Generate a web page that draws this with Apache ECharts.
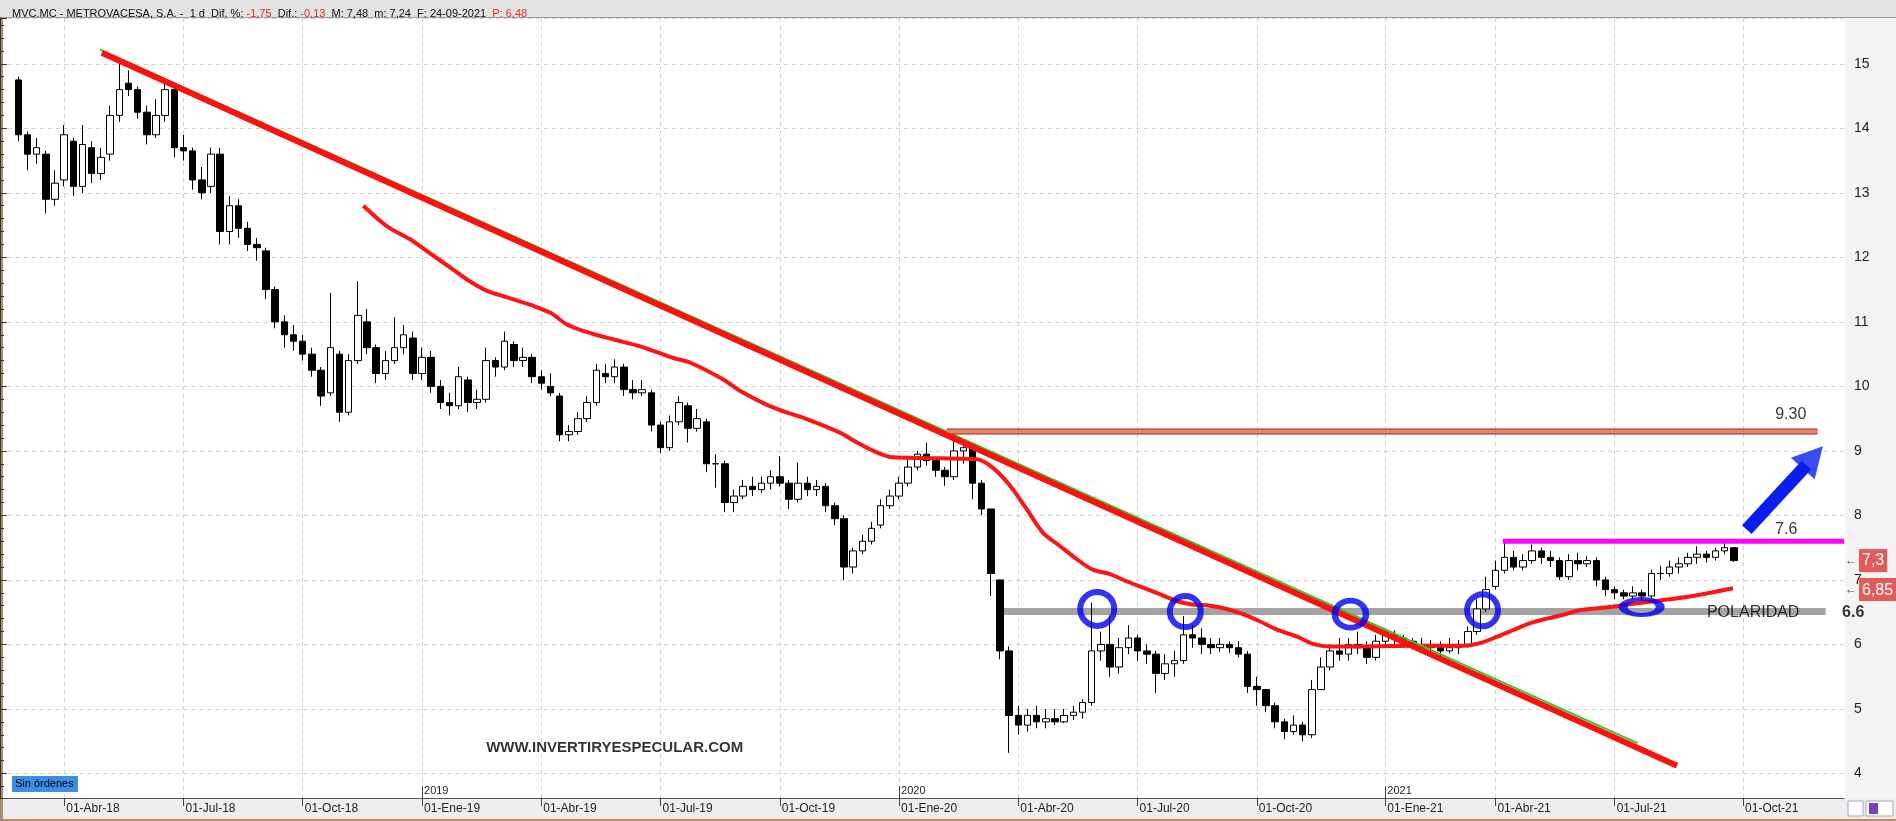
<!DOCTYPE html>
<html>
<head>
<meta charset="utf-8">
<title>MVC.MC - Metrovacesa</title>
<script src="https://cdn.jsdelivr.net/npm/echarts@6/dist/echarts.min.js"></script>
<style>
  html, body { margin: 0; padding: 0; background: #fff; }
  #chart { width: 1896px; height: 821px; }
</style>
</head>
<body>
<div id="chart"></div>
<script>
// eje X: una categoria por semana (lunes)
const firstMonday = '2018-02-12';
const weekCount = 202;

const quarterDates = ['2018-04-01', '2018-07-01', '2018-10-01', '2019-01-01', '2019-04-01', '2019-07-01', '2019-10-01',
  '2020-01-01', '2020-04-01', '2020-07-01', '2020-10-01', '2021-01-01', '2021-04-01', '2021-07-01', '2021-10-01'];
const quarterLabels = ['01-Abr-18', '01-Jul-18', '01-Oct-18', '01-Ene-19', '01-Abr-19', '01-Jul-19', '01-Oct-19',
  '01-Ene-20', '01-Abr-20', '01-Jul-20', '01-Oct-20', '01-Ene-21', '01-Abr-21', '01-Jul-21', '01-Oct-21'];
const yearDates = ['2019-01-01', '2020-01-01', '2021-01-01'];
const yearLabels = ['2019', '2020', '2021'];

// cabecera
const header = { ticker: 'MVC.MC - METROVACESA, S.A. -', period: '1 d', difPct: '-1,75', dif: '-0,13', max: '7,48', min: '7,24', date: '24-09-2021', last: '6,48' };

// velas semanales [apertura, cierre, minimo, maximo]; la primera cae en la semana 2
const ohlcStart = 2;
const weeklyOHLC = [
  [14.75, 13.9, 13.8, 14.8], [13.9, 13.6, 13.35, 13.95], [13.6, 13.7, 13.45, 13.85], [13.6, 12.9, 12.68, 13.65],
  [12.9, 13.15, 12.8, 13.35], [13.2, 13.9, 13.1, 14.05], [13.8, 13.1, 12.95, 13.85], [13.1, 13.75, 13.0, 14.05],
  [13.7, 13.3, 13.15, 13.8], [13.3, 13.55, 13.2, 13.7], [13.6, 14.2, 13.5, 14.35], [14.2, 14.6, 14.1, 15.03],
  [14.7, 14.6, 14.5, 14.9], [14.6, 14.25, 14.15, 14.65], [14.25, 13.9, 13.75, 14.35], [13.9, 14.2, 13.85, 14.45],
  [14.2, 14.6, 14.1, 14.75], [14.6, 13.7, 13.55, 14.65], [13.7, 13.65, 13.5, 13.9], [13.65, 13.2, 13.05, 13.7],
  [13.2, 13.0, 12.9, 13.4], [13.1, 13.6, 13.0, 13.7], [13.6, 12.4, 12.2, 13.7], [12.4, 12.8, 12.2, 12.95],
  [12.8, 12.45, 12.3, 12.9], [12.45, 12.2, 12.1, 12.55], [12.2, 12.15, 11.95, 12.3], [12.1, 11.5, 11.35, 12.15],
  [11.5, 11.0, 10.9, 11.55], [11.0, 10.8, 10.6, 11.1], [10.8, 10.7, 10.55, 10.95], [10.7, 10.5, 10.4, 10.8],
  [10.5, 10.25, 10.15, 10.6], [10.25, 9.85, 9.7, 10.3], [9.9, 10.6, 9.85, 11.45], [10.5, 9.6, 9.45, 10.55],
  [9.6, 10.4, 9.55, 10.5], [10.4, 11.1, 10.35, 11.63], [11.0, 10.6, 10.5, 11.2], [10.6, 10.2, 10.05, 10.65],
  [10.2, 10.4, 10.1, 10.55], [10.4, 10.6, 10.35, 11.07], [10.6, 10.8, 10.5, 10.95], [10.75, 10.2, 10.1, 10.85],
  [10.2, 10.45, 10.1, 10.6], [10.45, 10.0, 9.9, 10.55], [10.0, 9.75, 9.65, 10.1], [9.75, 9.7, 9.55, 9.9],
  [9.7, 10.15, 9.65, 10.3], [10.1, 9.75, 9.6, 10.15], [9.75, 9.8, 9.65, 9.95], [9.8, 10.4, 9.75, 10.6],
  [10.4, 10.3, 10.15, 10.45], [10.3, 10.7, 10.25, 10.85], [10.65, 10.4, 10.3, 10.7], [10.4, 10.45, 10.3, 10.6],
  [10.45, 10.15, 10.05, 10.5], [10.15, 10.05, 9.95, 10.25], [10.0, 9.9, 9.85, 10.2], [9.85, 9.25, 9.15, 9.9],
  [9.25, 9.3, 9.15, 9.4], [9.3, 9.5, 9.25, 9.6], [9.5, 9.75, 9.45, 9.85], [9.75, 10.25, 9.7, 10.35],
  [10.2, 10.15, 10.05, 10.35], [10.15, 10.3, 10.05, 10.42], [10.3, 9.95, 9.85, 10.35], [9.95, 9.9, 9.8, 10.1],
  [9.9, 9.95, 9.85, 10.1], [9.9, 9.4, 9.3, 9.95], [9.4, 9.05, 8.97, 9.45], [9.05, 9.45, 9.0, 9.55],
  [9.45, 9.75, 9.4, 9.85], [9.7, 9.35, 9.13, 9.75], [9.35, 9.5, 9.3, 9.65], [9.45, 8.8, 8.67, 9.5],
  [8.8, 8.8, 8.43, 8.95], [8.8, 8.2, 8.05, 8.85], [8.2, 8.3, 8.05, 8.4], [8.3, 8.45, 8.25, 8.55],
  [8.45, 8.4, 8.3, 8.6], [8.4, 8.5, 8.35, 8.6], [8.5, 8.6, 8.4, 8.7], [8.6, 8.5, 8.45, 8.92],
  [8.5, 8.25, 8.1, 8.55], [8.25, 8.5, 8.2, 8.82], [8.5, 8.4, 8.3, 8.6], [8.4, 8.45, 8.3, 8.55],
  [8.45, 8.15, 8.05, 8.5], [8.15, 7.95, 7.85, 8.2], [7.95, 7.2, 7.0, 8.0], [7.2, 7.45, 7.1, 7.5],
  [7.45, 7.6, 7.4, 7.7], [7.6, 7.8, 7.55, 7.9], [7.85, 8.15, 7.8, 8.25], [8.15, 8.3, 8.1, 8.4],
  [8.3, 8.5, 8.25, 8.6], [8.5, 8.75, 8.45, 8.9], [8.75, 8.95, 8.7, 9.0], [8.95, 8.85, 8.77, 9.13],
  [8.85, 8.7, 8.6, 8.85], [8.7, 8.6, 8.46, 8.75], [8.6, 9.0, 8.55, 9.28], [9.0, 9.05, 8.8, 9.15],
  [9.05, 8.5, 8.25, 9.1], [8.5, 8.1, 8.0, 8.55], [8.1, 7.1, 6.75, 8.1], [7.0, 5.9, 5.77, 7.0],
  [5.9, 4.9, 4.32, 5.97], [4.9, 4.75, 4.6, 5.05], [4.75, 4.9, 4.65, 5.0], [4.9, 4.8, 4.7, 5.05],
  [4.8, 4.85, 4.7, 5.0], [4.85, 4.8, 4.75, 5.0], [4.8, 4.9, 4.78, 5.0], [4.9, 4.95, 4.83, 5.05],
  [4.95, 5.1, 4.85, 5.15], [5.1, 5.9, 5.05, 6.65], [5.9, 6.0, 5.75, 6.2], [6.0, 5.65, 5.5, 6.45],
  [5.65, 5.95, 5.55, 6.1], [5.95, 6.1, 5.85, 6.3], [6.1, 5.9, 5.75, 6.15], [5.9, 5.85, 5.7, 6.0],
  [5.85, 5.55, 5.25, 5.9], [5.55, 5.7, 5.45, 5.85], [5.7, 5.75, 5.5, 5.9], [5.75, 6.15, 5.7, 6.44],
  [6.15, 6.1, 5.95, 6.3], [6.1, 6.0, 5.85, 6.25], [6.0, 5.95, 5.85, 6.1], [5.95, 6.0, 5.88, 6.1],
  [6.0, 5.95, 5.87, 6.05], [5.95, 5.85, 5.8, 6.05], [5.85, 5.35, 5.25, 5.9], [5.35, 5.3, 5.05, 5.5],
  [5.3, 5.05, 4.95, 5.3], [5.05, 4.8, 4.7, 5.1], [4.8, 4.65, 4.53, 4.85], [4.65, 4.75, 4.6, 4.9],
  [4.75, 4.6, 4.5, 4.8], [4.6, 5.3, 4.55, 5.45], [5.3, 5.65, 5.3, 5.8], [5.65, 5.9, 5.6, 6.0],
  [5.9, 5.85, 5.75, 6.1], [5.85, 6.0, 5.75, 6.1], [6.0, 5.95, 5.85, 6.2], [5.95, 5.8, 5.7, 6.05],
  [5.8, 6.05, 5.75, 6.15], [6.05, 6.15, 6.0, 6.2], [6.15, 6.1, 6.0, 6.22], [6.1, 6.05, 5.95, 6.15],
  [6.05, 6.0, 5.92, 6.1], [6.0, 5.95, 5.9, 6.1], [5.95, 6.0, 5.86, 6.07], [6.0, 5.9, 5.75, 6.05],
  [5.9, 5.95, 5.86, 6.1], [5.95, 6.0, 5.85, 6.07], [6.0, 6.2, 5.95, 6.28], [6.2, 6.55, 6.15, 6.7],
  [6.55, 6.85, 6.5, 7.05], [6.9, 7.15, 6.85, 7.3], [7.15, 7.35, 7.1, 7.6], [7.35, 7.2, 7.15, 7.45],
  [7.2, 7.3, 7.15, 7.4], [7.3, 7.45, 7.25, 7.55], [7.45, 7.35, 7.25, 7.5], [7.35, 7.3, 7.2, 7.45],
  [7.3, 7.05, 7.0, 7.35], [7.05, 7.3, 7.0, 7.4], [7.3, 7.25, 7.15, 7.42], [7.25, 7.3, 7.2, 7.37],
  [7.3, 7.0, 6.9, 7.35], [7.0, 6.85, 6.75, 7.05], [6.85, 6.8, 6.7, 6.9], [6.8, 6.75, 6.7, 6.85],
  [6.75, 6.8, 6.7, 6.9], [6.8, 6.75, 6.68, 6.85], [6.75, 7.1, 6.7, 7.16], [7.1, 7.1, 7.0, 7.22],
  [7.1, 7.2, 7.05, 7.3], [7.2, 7.25, 7.1, 7.35], [7.25, 7.35, 7.2, 7.42], [7.35, 7.4, 7.25, 7.52],
  [7.4, 7.35, 7.27, 7.45], [7.35, 7.45, 7.3, 7.5], [7.45, 7.5, 7.4, 7.57], [7.5, 7.3, 7.28, 7.5]
];

// media movil (linea roja): posicion en semanas y valor
const maWeek = [39.6, 42.2, 44.7, 46.5, 49.4, 51.2, 53.1, 55.3, 58.1, 60.0, 61.8, 64.0, 66.8, 69.8, 73.4, 75.2,
  78.8, 80.7, 84.3, 88.0, 91.6, 93.4, 95.2, 97.3, 100.6, 104.6, 106.5, 108.2, 110.1, 111.9, 113.7, 115.5,
  117.4, 119.1, 121.0, 122.8, 124.6, 126.4, 128.3, 130.0, 131.9, 133.7, 135.5, 137.3, 139.2, 141.4, 143.1,
  145.0, 148.6, 154.0, 159.5, 161.3, 163.2, 164.9, 166.8, 168.6, 170.4, 172.2, 175.5, 177.4, 180.9, 184.5, 188.9];
const maValue = [12.8, 12.48, 12.28, 12.1, 11.81, 11.63, 11.48, 11.38, 11.25, 11.14, 10.96, 10.84, 10.73, 10.62, 10.44, 10.37,
  10.11, 9.93, 9.67, 9.49, 9.28, 9.13, 9.0, 8.9, 8.89, 8.88, 8.87, 8.74, 8.46, 8.1, 7.73, 7.53,
  7.32, 7.16, 7.09, 6.98, 6.88, 6.78, 6.67, 6.62, 6.6, 6.55, 6.47, 6.36, 6.23, 6.12, 6.01,
  5.97, 5.97, 5.98, 5.98, 6.02, 6.12, 6.22, 6.33, 6.4, 6.46, 6.53, 6.58, 6.62, 6.68, 6.75, 6.87];

// dibujos sobre el grafico: [semana, precio]
const trendRed = [[11.1, 15.17], [182.8, 4.12]];
const trendGreen = [[10.9, 15.22], [178.5, 4.47]];
const level930 = [[103.2, 9.30], [198.1, 9.30]];
const level76 = [[163.8, 7.6], [201, 7.6]];
const levelPolaridad = [[108.7, 6.51], [199.0, 6.51]];
const touches = [[119.6, 6.55], [129.2, 6.51], [147.2, 6.47], [161.6, 6.53], [178.95, 6.58]];
const arrowShaft = [[190.4, 7.78], [196.9, 8.78]];
const arrowHead = [197.6, 8.9];
const notes = [
  { text: '9.30', at: [195.2, 9.57] },
  { text: '7.6', at: [194.7, 7.78] },
  { text: 'POLARIDAD', at: [191.1, 6.5] },
  { text: '6.6', at: [202.0, 6.5], bold: true },
  { text: 'WWW.INVERTIRYESPECULAR.COM', at: [67.0, 4.4], bold: true }
];
const lastPrice = 7.3;
const lastMA = 6.85;

// ---------------------------------------------------------------
const FONT = '"Liberation Sans", Arial, sans-serif';
const WEEK = 7 * 864e5;
const touchSizes = [[34, 34], [31, 31], [31, 27], [31, 32], [37, 16]];

const t0 = Date.parse(firstMonday);
const weekDates = [];
for (let i = 0; i < weekCount; i++) weekDates.push(new Date(t0 + i * WEEK).toISOString().slice(0, 10));
const weekOf = d => Math.round((Date.parse(d) - t0) / WEEK);

const quarterAt = {};
quarterDates.forEach((d, i) => { quarterAt[weekOf(d)] = quarterLabels[i]; });
const yearAt = {};
yearDates.forEach((d, i) => { yearAt[weekOf(d)] = yearLabels[i]; });
const isQuarter = i => quarterAt[i] !== undefined;
const isYear = i => yearAt[i] !== undefined;

const candleData = weekDates.map((_, i) => {
  const j = i - ohlcStart;
  return (j >= 0 && j < weeklyOHLC.length) ? weeklyOHLC[j] : '-';
});
const maData = maWeek.map((w, i) => [w, maValue[i]]);
const comma = v => String(v).replace('.', ',');

const segment = (data, color, width, z) => ({
  type: 'line', xAxisIndex: 2, yAxisIndex: 0, data, symbol: 'none', silent: true, z,
  lineStyle: { color, width, cap: 'butt' }
});

const chart = echarts.init(document.getElementById('chart'));

chart.setOption({
  animation: false,
  backgroundColor: '#ffffff',
  textStyle: { fontFamily: FONT },
  title: {
    left: 7, top: 3,
    text: `{k|${header.ticker}  ${header.period}  Dif. %: }{r|${header.difPct}}{k|  Dif.: }{r|${header.dif}}` +
      `{k|  M: ${header.max}  m: ${header.min}  F: ${header.date}  }{r|P: ${header.last}}`,
    textStyle: {
      rich: {
        k: { fontSize: 11, color: '#111', fontFamily: FONT, fontWeight: 'normal' },
        r: { fontSize: 11, color: '#e0302a', fontFamily: FONT, fontWeight: 'normal' }
      }
    }
  },
  graphic: [
    { type: 'rect', z: -5, shape: { x: 0, y: 0, width: 1896, height: 17 }, style: { fill: '#e2e2e2' } },
    { type: 'rect', z: -5, shape: { x: 0, y: 17, width: 1896, height: 1 }, style: { fill: '#9c9c9c' } },
    { type: 'rect', z: -5, shape: { x: 1845, y: 18, width: 51, height: 780 }, style: { fill: '#f3f3f3' } },
    { type: 'rect', z: -5, shape: { x: 0, y: 798, width: 1896, height: 21 }, style: { fill: '#eeeeee' } },
    { type: 'rect', z: -5, shape: { x: 0, y: 819, width: 1896, height: 2 }, style: { fill: '#c8895a' } },
    { type: 'rect', z: -5, shape: { x: 0, y: 17, width: 3, height: 804 }, style: { fill: '#a58d76' } },
    { type: 'rect', z: 20, shape: { x: 12, y: 776, width: 66, height: 16 }, style: { fill: '#3c8fe8' } },
    { type: 'text', z: 21, x: 15, y: 784, style: { text: 'Sin órdenes', font: '11px ' + FONT, fill: '#000', verticalAlign: 'middle' } },
    { type: 'rect', z: 20, shape: { x: 1848, y: 801, width: 15, height: 15 }, style: { fill: '#fff', stroke: '#9ab' } },
    { type: 'rect', z: 20, shape: { x: 1866, y: 801, width: 27, height: 15 }, style: { fill: '#fff', stroke: '#9ab' } },
    { type: 'rect', z: 21, shape: { x: 1869, y: 803, width: 9, height: 11 }, style: { fill: '#7a3fbf' } }
  ],
  grid: { left: 0, right: 52, top: 18, bottom: 23, containLabel: false },
  xAxis: [
    {
      type: 'category', data: weekDates, boundaryGap: false, position: 'bottom',
      axisLine: { show: true, lineStyle: { color: '#555', width: 1 } },
      axisTick: { show: true, interval: isQuarter, length: 8, lineStyle: { color: '#444' } },
      axisLabel: {
        interval: isQuarter, formatter: (v, i) => quarterAt[i] || '', align: 'left', margin: 5,
        padding: [0, 0, 0, 2], fontSize: 12, color: '#222', fontFamily: FONT
      },
      splitLine: { show: true, interval: isQuarter, lineStyle: { color: '#d2d2d2', type: [4, 4] } }
    },
    {
      type: 'category', data: weekDates, boundaryGap: false, position: 'bottom',
      axisLine: { show: false },
      axisTick: { show: true, inside: true, interval: isYear, length: 12, lineStyle: { color: '#444' } },
      axisLabel: {
        inside: true, interval: isYear, formatter: (v, i) => yearAt[i] || '', align: 'left', margin: 2,
        padding: [0, 0, 0, 2], fontSize: 11, color: '#222', fontFamily: FONT
      },
      splitLine: { show: false }
    },
    { type: 'value', min: 0, max: weekCount - 1, show: false }
  ],
  yAxis: {
    type: 'value', position: 'right', min: 3.62, max: 15.71, splitNumber: 12,
    axisLine: { show: true, lineStyle: { color: '#333' } },
    axisTick: { show: true, length: 7, lineStyle: { color: '#333' } },
    minorTick: { show: true, splitNumber: 5, length: 4, lineStyle: { color: '#333' } },
    axisLabel: {
      margin: 10, fontSize: 14, color: '#222', fontFamily: FONT,
      formatter: v => Math.abs(v - Math.round(v)) < 1e-6 ? String(Math.round(v)) : ''
    },
    splitLine: { show: true, lineStyle: { color: '#d2d2d2', type: [4, 4] } }
  },
  series: [
    segment(levelPolaridad, '#a3a3a3', 7, 1),
    {
      type: 'candlestick', xAxisIndex: 0, yAxisIndex: 0, data: candleData, barWidth: 7, z: 2, silent: true,
      itemStyle: { color: '#ffffff', color0: '#000000', borderColor: '#000000', borderColor0: '#000000', borderWidth: 1 },
      markLine: {
        silent: true, symbol: ['none', 'none'],
        lineStyle: { color: 'rgba(0,0,0,0)' },
        label: {
          position: 'end', distance: 1,
          rich: {
            a: { fontSize: 12, color: '#555', padding: [0, 2, 0, 0] },
            b: { fontSize: 16, color: '#fff', backgroundColor: '#e35a5a', padding: [4, 3, 3, 3], fontFamily: FONT }
          }
        },
        data: [
          { yAxis: lastPrice, label: { formatter: '{a|←}{b|' + comma(lastPrice) + '}' } },
          { yAxis: lastMA, label: { formatter: '{a|←}{b|' + comma(lastMA) + '}' } }
        ]
      }
    },
    {
      type: 'line', xAxisIndex: 2, yAxisIndex: 0, data: maData, smooth: 0.3, symbol: 'none', silent: true, z: 3,
      lineStyle: { color: '#ff1414', width: 4 }
    },
    segment(trendGreen, '#2ecc2e', 2, 3),
    segment(trendRed, '#ff1010', 6, 4),
    segment(level930, '#8a2a1c', 6, 3),
    segment(level930, '#ea846e', 4, 3),
    segment(level76, '#ff00ff', 5, 3),
    {
      type: 'scatter', xAxisIndex: 2, yAxisIndex: 0, silent: true, z: 5, clip: false,
      data: touches.map((p, i) => ({ value: p, symbolSize: touchSizes[i] })),
      symbol: 'circle',
      itemStyle: { color: 'rgba(0,0,0,0)', borderColor: '#0000f0', borderWidth: 6 }
    },
    segment(arrowShaft, '#0a1ef0', 13, 5),
    {
      type: 'scatter', xAxisIndex: 2, yAxisIndex: 0, silent: true, z: 5, clip: false,
      data: [arrowHead], symbol: 'triangle', symbolSize: [32, 30], symbolRotate: -42,
      itemStyle: { color: '#0a1ef0' }
    },
    {
      type: 'scatter', xAxisIndex: 2, yAxisIndex: 0, silent: true, z: 6, clip: false, symbolSize: 0,
      data: notes.map(n => ({
        value: n.at, name: n.text,
        label: n.bold ? { fontWeight: 'bold', fontSize: n.text.length > 5 ? 15 : 16 } : {}
      })),
      label: {
        show: true, position: 'inside', color: '#000', fontFamily: FONT, fontSize: 16,
        formatter: p => p.name
      }
    }
  ]
});
</script>
</body>
</html>
